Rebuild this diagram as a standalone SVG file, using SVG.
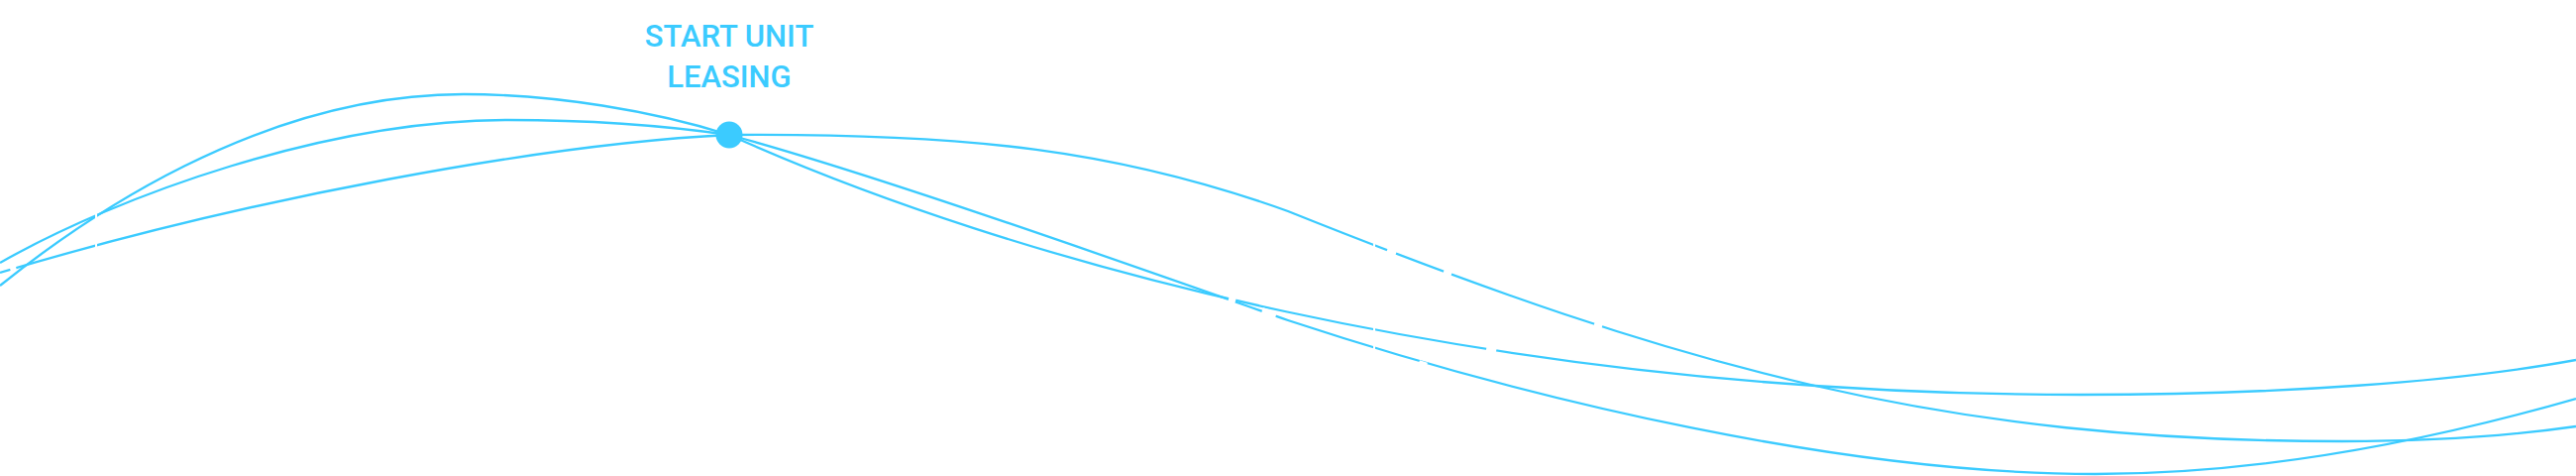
<svg xmlns="http://www.w3.org/2000/svg" width="2600" height="480" viewBox="0 0 2600 480">
  <style>
    .edge { fill: none; stroke: #3BCBFF; stroke-width: 2.3; }
    .gap { stroke: #FFFFFF; stroke-width: 6; stroke-linecap: butt; }
    .vgap { stroke: #FFFFFF; stroke-width: 2; }
    .node-dot { fill: #3BCBFF; }
    .label { font-family: Roboto, "Liberation Sans", Arial, sans-serif; font-weight: 500; font-size: 31px; fill: #3BCBFF; text-anchor: middle; }
  </style>
  <rect width="2600" height="480" fill="#FFFFFF"/>
  <g id="connectors">
    <path class="edge" d="M 0 288 C 80 224, 260 95, 468 95 C 560 95, 660 112, 736 136"/>
    <path class="edge" d="M 0 265 C 120 197, 330 121, 513 121 C 600 121, 680 128, 736 136"/>
    <path class="edge" d="M 0 275 C 250 200, 550 145, 736 136"/>
    <path class="edge" d="M 736 136 C 980 134, 1130 152, 1300 213 C 1700 373, 1964 445, 2364 445 C 2450 445, 2530 440, 2600 430"/>
    <path class="edge" d="M 736 136 C 1016 262, 1500 398, 2100 398 C 2300 398, 2480 385, 2600 363"/>
    <path class="edge" d="M 736 136 C 886 176.5, 1150 270.5, 1300 323 C 1550 405.5, 1865 478, 2115 478 C 2280 478, 2450 445, 2600 402"/>
    <g id="gaps">
      <line class="vgap" x1="97" y1="0" x2="97" y2="480"/>
      <line class="vgap" x1="1387" y1="0" x2="1387" y2="480"/>
      <line class="gap" x1="10" y1="270.5" x2="16" y2="268.8"/>
      <line class="gap" x1="1400" y1="252.2" x2="1409" y2="255.6"/>
      <line class="gap" x1="1457" y1="273.8" x2="1465" y2="276.6"/>
      <line class="gap" x1="1609" y1="327" x2="1617" y2="329.4"/>
      <line class="gap" x1="1500" y1="352.5" x2="1510" y2="354.5"/>
      <line class="gap" x1="1432" y1="366" x2="1440" y2="368.6"/>
      <line class="gap" x1="1240" y1="301.5" x2="1247" y2="303.5"/>
      <line class="gap" x1="1274" y1="313" x2="1288" y2="317.6"/>
    </g>
  </g>
  <g id="node-start-unit-leasing">
    <circle class="node-dot" cx="736" cy="136" r="13.5"/>
    <text class="label" x="736" y="47">START UNIT</text>
    <text class="label" x="736" y="88">LEASING</text>
  </g>
</svg>
